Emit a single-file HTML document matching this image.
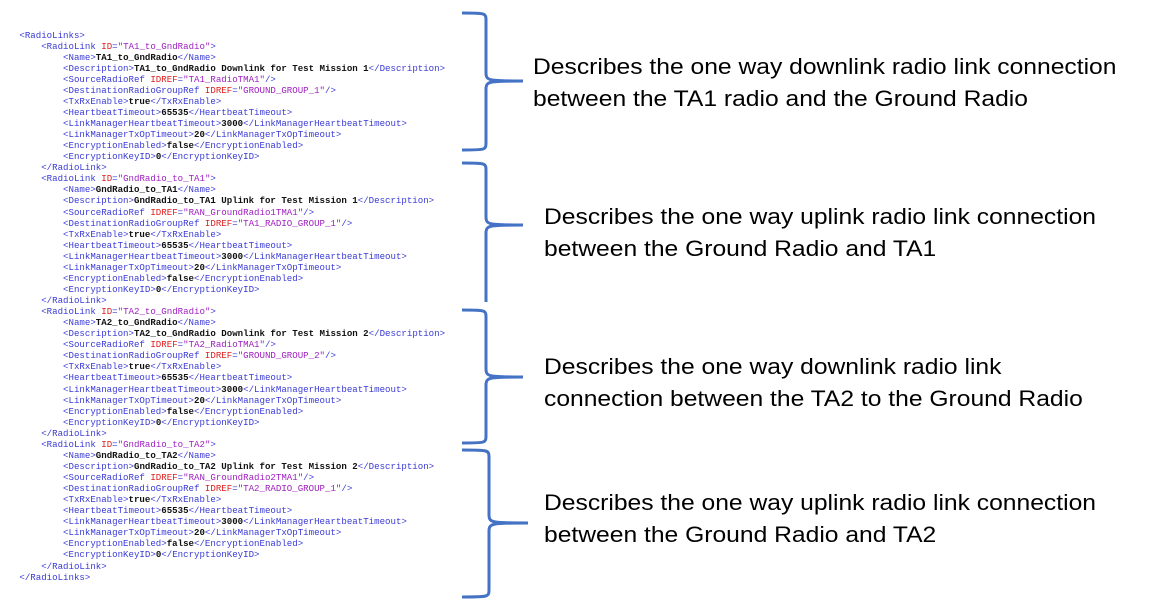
<!DOCTYPE html>
<html><head><meta charset="utf-8"><style>
html,body{margin:0;padding:0;background:#fff;width:1166px;height:599px;overflow:hidden;position:relative}
.x{position:absolute;left:3px;top:29.5px;font-family:"Liberation Mono",monospace;font-size:9.1px;line-height:11.06px;white-space:pre;color:#000}
.t{color:#3a3ad6}.a{color:#e02020}.v{color:#a020c0}.b{font-weight:bold;color:#111}
.d{position:absolute;font-family:"Liberation Sans",sans-serif;font-size:22px;line-height:32px;color:#000;white-space:nowrap;transform:scaleX(1.12);transform-origin:0 0}
</style></head><body>
<div class="x"><span class="t">   &lt;RadioLinks&gt;</span>
<span class="t">       &lt;RadioLink </span><span class="a">ID</span><span class="t">=</span><span class="v">"TA1_to_GndRadio"</span><span class="t">&gt;</span>
<span class="t">           &lt;Name&gt;</span><span class="b">TA1_to_GndRadio</span><span class="t">&lt;/Name&gt;</span>
<span class="t">           &lt;Description&gt;</span><span class="b">TA1_to_GndRadio Downlink for Test Mission 1</span><span class="t">&lt;/Description&gt;</span>
<span class="t">           &lt;SourceRadioRef </span><span class="a">IDREF</span><span class="t">=</span><span class="v">"TA1_RadioTMA1"</span><span class="t">/&gt;</span>
<span class="t">           &lt;DestinationRadioGroupRef </span><span class="a">IDREF</span><span class="t">=</span><span class="v">"GROUND_GROUP_1"</span><span class="t">/&gt;</span>
<span class="t">           &lt;TxRxEnable&gt;</span><span class="b">true</span><span class="t">&lt;/TxRxEnable&gt;</span>
<span class="t">           &lt;HeartbeatTimeout&gt;</span><span class="b">65535</span><span class="t">&lt;/HeartbeatTimeout&gt;</span>
<span class="t">           &lt;LinkManagerHeartbeatTimeout&gt;</span><span class="b">3000</span><span class="t">&lt;/LinkManagerHeartbeatTimeout&gt;</span>
<span class="t">           &lt;LinkManagerTxOpTimeout&gt;</span><span class="b">20</span><span class="t">&lt;/LinkManagerTxOpTimeout&gt;</span>
<span class="t">           &lt;EncryptionEnabled&gt;</span><span class="b">false</span><span class="t">&lt;/EncryptionEnabled&gt;</span>
<span class="t">           &lt;EncryptionKeyID&gt;</span><span class="b">0</span><span class="t">&lt;/EncryptionKeyID&gt;</span>
<span class="t">       &lt;/RadioLink&gt;</span>
<span class="t">       &lt;RadioLink </span><span class="a">ID</span><span class="t">=</span><span class="v">"GndRadio_to_TA1"</span><span class="t">&gt;</span>
<span class="t">           &lt;Name&gt;</span><span class="b">GndRadio_to_TA1</span><span class="t">&lt;/Name&gt;</span>
<span class="t">           &lt;Description&gt;</span><span class="b">GndRadio_to_TA1 Uplink for Test Mission 1</span><span class="t">&lt;/Description&gt;</span>
<span class="t">           &lt;SourceRadioRef </span><span class="a">IDREF</span><span class="t">=</span><span class="v">"RAN_GroundRadio1TMA1"</span><span class="t">/&gt;</span>
<span class="t">           &lt;DestinationRadioGroupRef </span><span class="a">IDREF</span><span class="t">=</span><span class="v">"TA1_RADIO_GROUP_1"</span><span class="t">/&gt;</span>
<span class="t">           &lt;TxRxEnable&gt;</span><span class="b">true</span><span class="t">&lt;/TxRxEnable&gt;</span>
<span class="t">           &lt;HeartbeatTimeout&gt;</span><span class="b">65535</span><span class="t">&lt;/HeartbeatTimeout&gt;</span>
<span class="t">           &lt;LinkManagerHeartbeatTimeout&gt;</span><span class="b">3000</span><span class="t">&lt;/LinkManagerHeartbeatTimeout&gt;</span>
<span class="t">           &lt;LinkManagerTxOpTimeout&gt;</span><span class="b">20</span><span class="t">&lt;/LinkManagerTxOpTimeout&gt;</span>
<span class="t">           &lt;EncryptionEnabled&gt;</span><span class="b">false</span><span class="t">&lt;/EncryptionEnabled&gt;</span>
<span class="t">           &lt;EncryptionKeyID&gt;</span><span class="b">0</span><span class="t">&lt;/EncryptionKeyID&gt;</span>
<span class="t">       &lt;/RadioLink&gt;</span>
<span class="t">       &lt;RadioLink </span><span class="a">ID</span><span class="t">=</span><span class="v">"TA2_to_GndRadio"</span><span class="t">&gt;</span>
<span class="t">           &lt;Name&gt;</span><span class="b">TA2_to_GndRadio</span><span class="t">&lt;/Name&gt;</span>
<span class="t">           &lt;Description&gt;</span><span class="b">TA2_to_GndRadio Downlink for Test Mission 2</span><span class="t">&lt;/Description&gt;</span>
<span class="t">           &lt;SourceRadioRef </span><span class="a">IDREF</span><span class="t">=</span><span class="v">"TA2_RadioTMA1"</span><span class="t">/&gt;</span>
<span class="t">           &lt;DestinationRadioGroupRef </span><span class="a">IDREF</span><span class="t">=</span><span class="v">"GROUND_GROUP_2"</span><span class="t">/&gt;</span>
<span class="t">           &lt;TxRxEnable&gt;</span><span class="b">true</span><span class="t">&lt;/TxRxEnable&gt;</span>
<span class="t">           &lt;HeartbeatTimeout&gt;</span><span class="b">65535</span><span class="t">&lt;/HeartbeatTimeout&gt;</span>
<span class="t">           &lt;LinkManagerHeartbeatTimeout&gt;</span><span class="b">3000</span><span class="t">&lt;/LinkManagerHeartbeatTimeout&gt;</span>
<span class="t">           &lt;LinkManagerTxOpTimeout&gt;</span><span class="b">20</span><span class="t">&lt;/LinkManagerTxOpTimeout&gt;</span>
<span class="t">           &lt;EncryptionEnabled&gt;</span><span class="b">false</span><span class="t">&lt;/EncryptionEnabled&gt;</span>
<span class="t">           &lt;EncryptionKeyID&gt;</span><span class="b">0</span><span class="t">&lt;/EncryptionKeyID&gt;</span>
<span class="t">       &lt;/RadioLink&gt;</span>
<span class="t">       &lt;RadioLink </span><span class="a">ID</span><span class="t">=</span><span class="v">"GndRadio_to_TA2"</span><span class="t">&gt;</span>
<span class="t">           &lt;Name&gt;</span><span class="b">GndRadio_to_TA2</span><span class="t">&lt;/Name&gt;</span>
<span class="t">           &lt;Description&gt;</span><span class="b">GndRadio_to_TA2 Uplink for Test Mission 2</span><span class="t">&lt;/Description&gt;</span>
<span class="t">           &lt;SourceRadioRef </span><span class="a">IDREF</span><span class="t">=</span><span class="v">"RAN_GroundRadio2TMA1"</span><span class="t">/&gt;</span>
<span class="t">           &lt;DestinationRadioGroupRef </span><span class="a">IDREF</span><span class="t">=</span><span class="v">"TA2_RADIO_GROUP_1"</span><span class="t">/&gt;</span>
<span class="t">           &lt;TxRxEnable&gt;</span><span class="b">true</span><span class="t">&lt;/TxRxEnable&gt;</span>
<span class="t">           &lt;HeartbeatTimeout&gt;</span><span class="b">65535</span><span class="t">&lt;/HeartbeatTimeout&gt;</span>
<span class="t">           &lt;LinkManagerHeartbeatTimeout&gt;</span><span class="b">3000</span><span class="t">&lt;/LinkManagerHeartbeatTimeout&gt;</span>
<span class="t">           &lt;LinkManagerTxOpTimeout&gt;</span><span class="b">20</span><span class="t">&lt;/LinkManagerTxOpTimeout&gt;</span>
<span class="t">           &lt;EncryptionEnabled&gt;</span><span class="b">false</span><span class="t">&lt;/EncryptionEnabled&gt;</span>
<span class="t">           &lt;EncryptionKeyID&gt;</span><span class="b">0</span><span class="t">&lt;/EncryptionKeyID&gt;</span>
<span class="t">       &lt;/RadioLink&gt;</span>
<span class="t">   &lt;/RadioLinks&gt;</span></div>

<svg style="position:absolute;left:0;top:0" width="1166" height="599">
<g fill="none" stroke="#4472c4" stroke-width="3">
<path d="M462,13 C486,13 486,13 486,21 V73 C486,81 490,81 523,81 C490,81 486,81 486,89 V142 C486,150 486,150 462,150"/>
<path d="M462,163 C486,163 486,163 486,171 V217 C486,225 490,225 523,225 C490,225 486,225 486,233 V302"/>
<path d="M462,310 C486,310 486,310 486,318 V369 C486,377 490,377 523,377 C490,377 486,377 486,385 V435 C486,443 486,443 462,443"/>
<path d="M462,450 C489,450 489,450 489,458 V515 C489,523 493,523 528,523 C493,523 489,523 489,531 V589 C489,597 489,597 462,597"/>
</g>
</svg>

<div class="d" style="left:533px;top:51px">Describes the one way downlink radio link connection<br>between the TA1 radio and the Ground Radio</div>
<div class="d" style="left:544px;top:201px">Describes the one way uplink radio link connection<br>between the Ground Radio and TA1</div>
<div class="d" style="left:544px;top:351px">Describes the one way downlink radio link<br>connection between the TA2 to the Ground Radio</div>
<div class="d" style="left:544px;top:487px">Describes the one way uplink radio link connection<br>between the Ground Radio and TA2</div>
</body></html>
